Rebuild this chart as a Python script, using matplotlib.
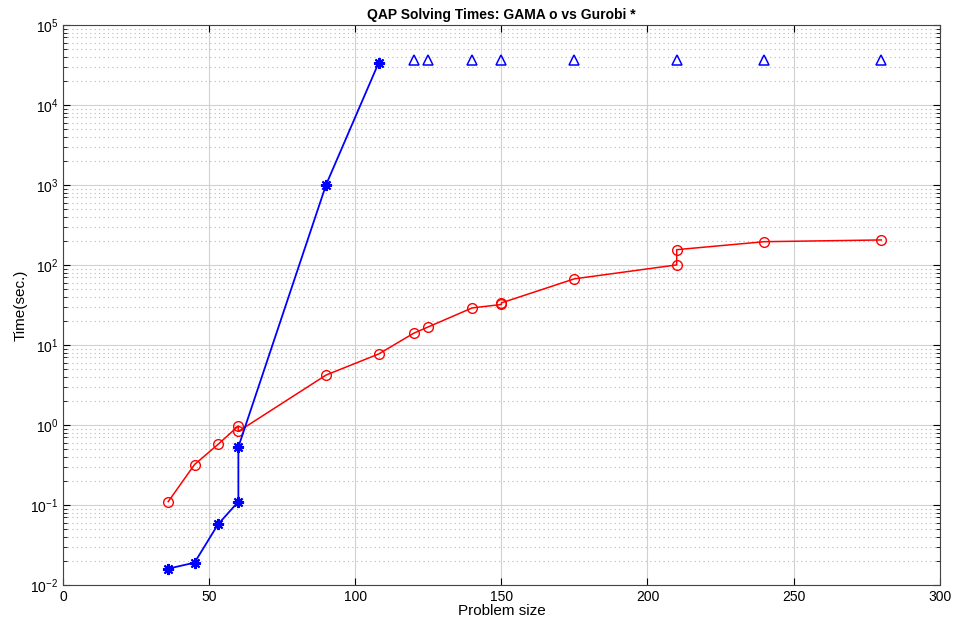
import matplotlib.pyplot as plt
import numpy as np
from matplotlib.ticker import LogLocator, NullFormatter, MultipleLocator

plt.rcParams['font.family'] = ['Liberation Sans', 'DejaVu Sans']

# GAMA (red circles)
gama_n = [36, 45, 53, 60, 60, 90, 108, 120, 125, 140, 150, 150, 175, 210, 210, 240, 280]
gama_t = [0.11, 0.32, 0.57, 0.97, 0.83, 4.2, 7.7, 14, 16.8, 29, 32, 33.5, 67, 100, 155, 195, 205]

# Gurobi (blue asterisks)
gurobi_n = [36, 45, 53, 60, 60, 90, 108]
gurobi_t = [0.016, 0.019, 0.057, 0.11, 0.53, 1000, 33500]

# Gurobi time-outs (blue triangles)
timeout_n = [120, 125, 140, 150, 175, 210, 240, 280]
timeout_t = [36000] * len(timeout_n)

fig = plt.figure(figsize=(9.55, 6.21), dpi=100)
ax = fig.add_axes([0.066, 0.058, 0.918, 0.902])

ax.plot(gama_n, gama_t, '-o', color='red', mfc='none', ms=7, lw=1.1)
# matlab style asterisk marker
ax.plot(gurobi_n, gurobi_t, '-', color='blue', marker=(8, 2, 0), ms=8, mew=1.5, lw=1.3)
ax.plot(timeout_n, timeout_t, '^', color='blue', mfc='none', ms=7, lw=0, mew=1.1)

ax.set_yscale('log')
ax.set_xlim(0, 300)
ax.set_ylim(1e-2, 1e5)
ax.xaxis.set_major_locator(MultipleLocator(50))
ax.yaxis.set_major_locator(LogLocator(base=10, numticks=10))
ax.yaxis.set_minor_locator(LogLocator(base=10, subs=np.arange(2, 10), numticks=10))
ax.yaxis.set_minor_formatter(NullFormatter())

ax.grid(True, which='major', color='#d0d0d0', lw=0.8, ls='-')
ax.grid(True, which='minor', axis='y', color='#b8b8b8', lw=0.8, ls=(0, (1, 3)))
ax.set_axisbelow(True)

ax.tick_params(which='both', direction='in', top=True, right=True, labelsize=10)
ax.tick_params(which='major', length=5)
ax.tick_params(which='minor', length=3)
for s in ax.spines.values():
    s.set_color('#444444')

ax.set_title('QAP Solving Times: GAMA o vs Gurobi *', fontsize=10, fontweight='bold', pad=4)
ax.set_xlabel('Problem size', fontsize=11, labelpad=0)
ax.set_ylabel('Time(sec.)', fontsize=11, labelpad=2)

fig.savefig('out.png', dpi=100)
